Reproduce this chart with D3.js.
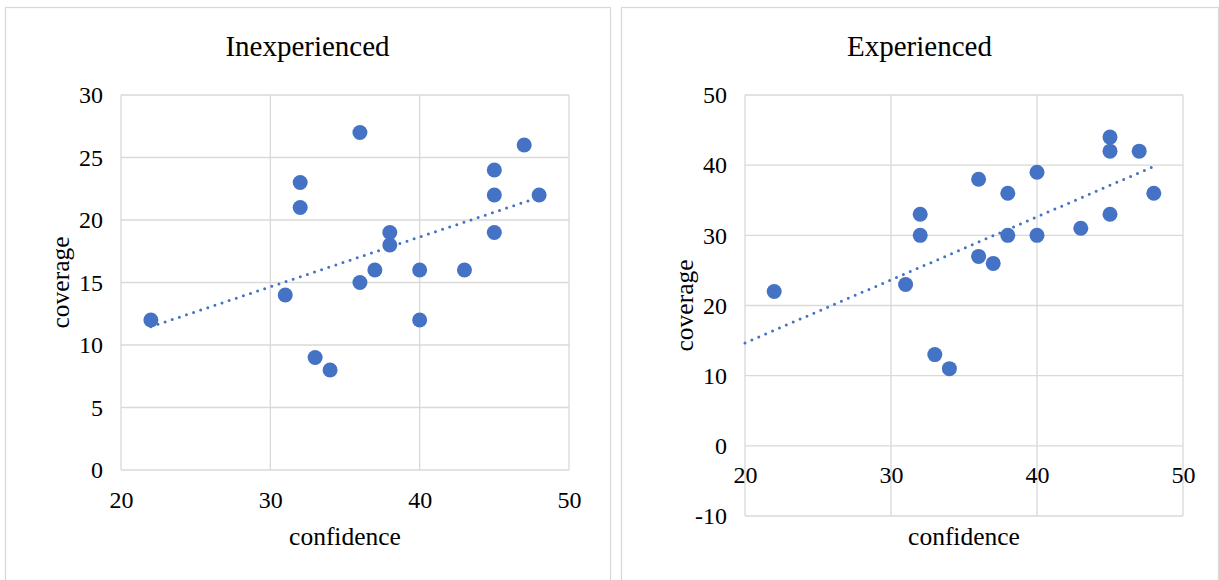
<!DOCTYPE html>
<html>
<head>
<meta charset="utf-8">
<script src="https://cdn.jsdelivr.net/npm/d3@7"></script>
<style>
  body { margin: 0; background: #fff; }
  svg { display: block; }
  text { font-family: "Liberation Serif", "Times New Roman", serif; fill: #000; }
</style>
</head>
<body>
<div id="plot"></div>
<script>
// ----- DATA ------------------------//
const confidence = [22, 31, 32, 32, 33, 34, 36, 36, 37, 38, 38, 40, 40, 43, 45, 45, 45, 47, 48];
const coverageInexperienced = [12, 14, 23, 21, 9, 8, 27, 15, 16, 19, 18, 16, 12, 16, 24, 22, 19, 26, 22];
const coverageExperienced = [22, 23, 33, 30, 13, 11, 38, 27, 26, 36, 30, 39, 30, 31, 44, 42, 33, 42, 36];

const xTicks = [20, 30, 40, 50];
const yTicksInexperienced = [0, 5, 10, 15, 20, 25, 30];
const yTicksExperienced = [-10, 0, 10, 20, 30, 40, 50];

// trendline start (Excel backward forecast on the right panel)
const trendStartInexperienced = 22;
const trendStartExperienced = 20;

const W = 1219, H = 580;
const blue = "#4472C4";
const grid = "#d9d9d9";

var svg = d3.select("#plot").append("svg")
    .attr("width", W)
    .attr("height", H);

// least squares fit
function fit(xs, ys) {
    const mx = d3.mean(xs), my = d3.mean(ys);
    let sxy = 0, sxx = 0;
    xs.forEach((x, i) => { sxy += (x - mx) * (ys[i] - my); sxx += (x - mx) * (x - mx); });
    const b = sxy / sxx;
    return x => my + b * (x - mx);
}

function drawPanel(p) {
    const g = svg.append("g");

    // panel frame
    g.append("rect")
        .attr("x", p.box[0] + 0.5).attr("y", 7.5)
        .attr("width", p.box[1] - p.box[0]).attr("height", 600)
        .attr("fill", "none").attr("stroke", grid).attr("stroke-width", 1.3);

    g.append("text")
        .attr("x", (p.box[0] + p.box[1]) / 2).attr("y", 56)
        .attr("text-anchor", "middle")
        .style("font-size", "29px")
        .text(p.title);

    const xScl = d3.scaleLinear().domain([20, 50]).range([p.left, p.right]);
    const yScl = d3.scaleLinear().domain(d3.extent(p.yTicks)).range([p.bottom, p.top]);

    // gridlines
    g.append("g").selectAll("line").data(p.yTicks).join("line")
        .attr("x1", p.left).attr("x2", p.right)
        .attr("y1", d => yScl(d)).attr("y2", d => yScl(d))
        .attr("stroke", grid).attr("stroke-width", 1.3);
    g.append("g").selectAll("line").data(xTicks).join("line")
        .attr("x1", d => xScl(d)).attr("x2", d => xScl(d))
        .attr("y1", p.top).attr("y2", p.bottom)
        .attr("stroke", grid).attr("stroke-width", 1.3);

    // axes (labels only)
    const xAxis = d3.axisBottom(xScl).tickValues(xTicks).tickSize(0).tickPadding(p.xPad)
        .tickFormat(d => String(d));
    const yAxis = d3.axisLeft(yScl).tickValues(p.yTicks).tickSize(0).tickPadding(18)
        .tickFormat(d => String(d));

    const gx = g.append("g")
        .attr("transform", "translate(0," + yScl(p.xAxisAt) + ")")
        .call(xAxis);
    const gy = g.append("g")
        .attr("transform", "translate(" + p.left + ",0)")
        .call(yAxis);
    [gx, gy].forEach(a => {
        a.select(".domain").remove();
        a.selectAll("text")
            .style("font-size", "24px")
            .style("font-family", "'Liberation Serif', serif")
            .attr("fill", "#000");
    });

    g.append("text")
        .attr("x", (p.left + p.right) / 2).attr("y", 545)
        .attr("text-anchor", "middle")
        .style("font-size", "25.5px")
        .text("confidence");

    g.append("text")
        .attr("transform", "translate(" + (p.left - 52) + "," + ((p.top + p.bottom) / 2) + ") rotate(-90)")
        .attr("text-anchor", "middle")
        .style("font-size", "25.5px")
        .text("coverage");

    // trendline
    const f = fit(confidence, p.ys);
    const ends = [p.trendStart, d3.max(confidence)];
    const line = d3.line().x(d => xScl(d)).y(d => yScl(f(d)));
    g.append("path")
        .attr("d", line(ends))
        .attr("fill", "none")
        .attr("stroke", blue)
        .attr("stroke-width", 3)
        .attr("stroke-linecap", "round")
        .attr("stroke-dasharray", "0,7.5");

    // points
    g.append("g").selectAll("circle")
        .data(confidence.map((x, i) => ({ x: x, y: p.ys[i] })))
        .join("circle")
        .attr("cx", d => xScl(d.x))
        .attr("cy", d => yScl(d.y))
        .attr("r", 7.5)
        .attr("fill", blue);
}

drawPanel({
    title: "Inexperienced",
    box: [5, 610],
    left: 121, right: 569, top: 95, bottom: 470,
    yTicks: yTicksInexperienced,
    ys: coverageInexperienced,
    xAxisAt: 0, xPad: 21,
    trendStart: trendStartInexperienced
});

drawPanel({
    title: "Experienced",
    box: [621, 1218],
    left: 745, right: 1183, top: 95, bottom: 516,
    yTicks: yTicksExperienced,
    ys: coverageExperienced,
    xAxisAt: 0, xPad: 20,
    trendStart: trendStartExperienced
});
</script>
</body>
</html>
